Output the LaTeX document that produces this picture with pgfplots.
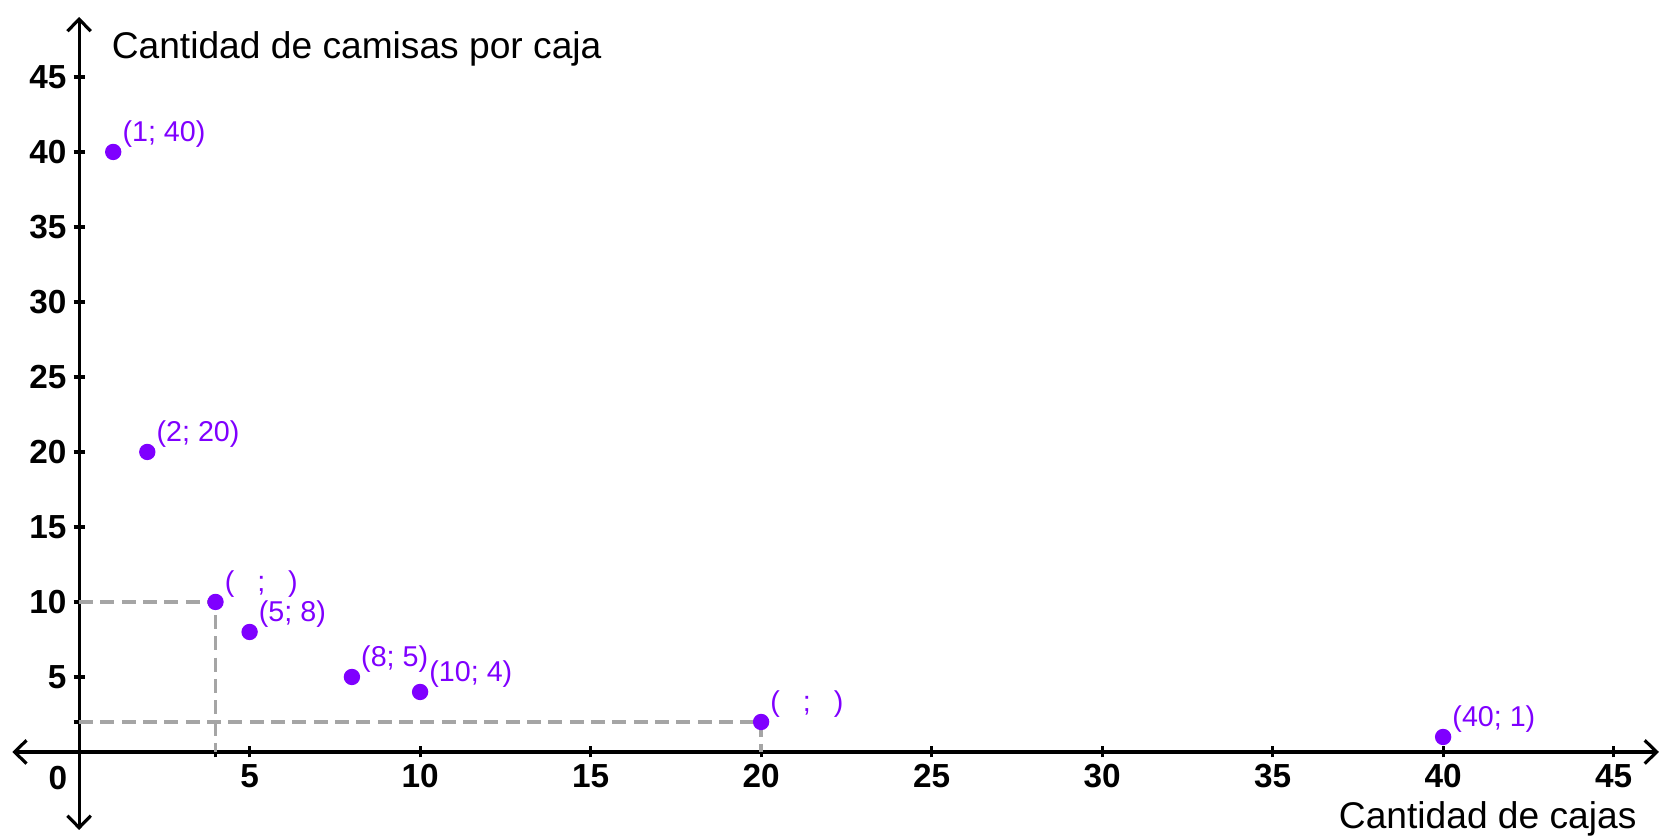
\documentclass[border=0pt]{standalone}
\usepackage{fontspec}
\setmainfont{Liberation Sans}
\usepackage{pgfplots}
\pgfplotsset{compat=1.18}
\usetikzlibrary{arrows.meta}
\definecolor{violeta}{RGB}{127,0,255}
\definecolor{guia}{RGB}{165,165,165}

\pgfplotsset{
    punto/.style={only marks, mark=*, mark size=2.25pt, color=violeta,
        mark options={draw=none, fill=violeta},
        nodes near coords={#1},
        nodes near coords style={anchor=west, inner sep=0pt, xshift=2.6pt, yshift=5.4pt,
            font=\fontsize{8.6}{10}\selectfont, text=violeta}},
    guiaestilo/.style={guia, line width=1.1pt, dash pattern=on 4.2pt off 2.2pt},
}
\newcommand\hueco{(\hspace{0.8em};\hspace{0.8em})}

\begin{document}
\begin{tikzpicture}
\begin{axis}[
    scale only axis,
    width=494pt, height=243.9pt,
    xmin=-1.96, xmax=46.33,
    ymin=-5.2, ymax=49,
    axis lines=middle,
    axis line style={black, line width=0.95pt},
    inner axis line style={{Straight Barb[length=3.6pt,width=7pt]}-{Straight Barb[length=3.6pt,width=7pt]}},
    xtick={5,10,...,45}, ytick={5,10,...,45},
    extra x ticks={4}, extra x tick labels={},
    extra y ticks={2}, extra y tick labels={},
    major tick length=3.3pt, tick align=center,
    tick style={black, line width=0.95pt},
    /pgf/number format/assume math mode=true,
    ticklabel style={font=\bfseries\fontsize{10}{12}\selectfont},
    xticklabel style={yshift=1.4pt},
    yticklabel style={xshift=1.4pt},
    clip=false,
]
% lineas guia
\addplot[guiaestilo] coordinates {(0,10) (4,10) (4,0)};
\addplot[guiaestilo] coordinates {(0,2) (20,2) (20,0)};

% puntos (cajas; camisas por caja)
\addplot[punto={(1; 40)}]  coordinates {(1,40)};
\addplot[punto={(2; 20)}]  coordinates {(2,20)};
\addplot[punto={\hueco}]   coordinates {(4,10)};
\addplot[punto={(5; 8)}]   coordinates {(5,8)};
\addplot[punto={(8; 5)}]   coordinates {(8,5)};
\addplot[punto={(10; 4)}]  coordinates {(10,4)};
\addplot[punto={\hueco}]   coordinates {(20,2)};
\addplot[punto={(40; 1)}]  coordinates {(40,1)};

\node[anchor=west, inner sep=0pt, font=\fontsize{11.15}{13}\selectfont] at (axis cs:0.94,46.9) {Cantidad de camisas por caja};
\node[anchor=east, inner sep=0pt, font=\fontsize{11.15}{13}\selectfont] at (axis cs:45.69,-4.45) {Cantidad de cajas};
\node[inner sep=0pt, font=\bfseries\fontsize{10}{12}\selectfont] at (axis cs:-0.62,-1.73) {0};

\coordinate (bbA) at (axis cs:-2.32,-5.6);
\coordinate (bbB) at (axis cs:46.36,50.13);
\end{axis}
\pgfresetboundingbox
\path (bbA) rectangle (bbB);
\end{tikzpicture}
\end{document}
